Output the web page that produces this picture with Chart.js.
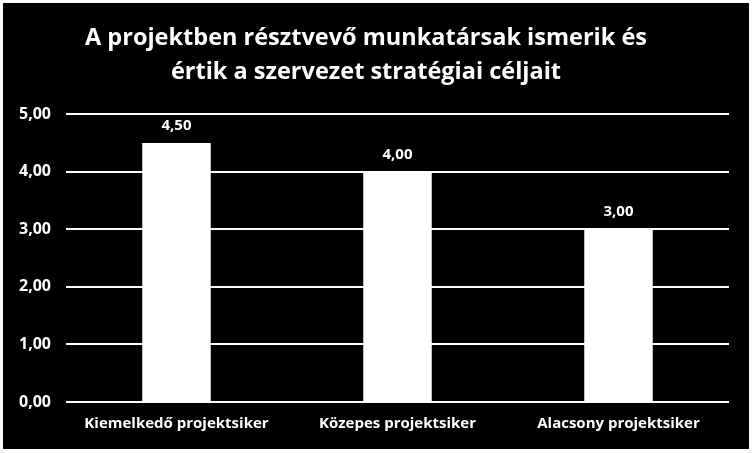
<!DOCTYPE html>
<html>
<head>
<meta charset="utf-8">
<script src="https://cdn.jsdelivr.net/npm/chart.js@4"></script>
<style>
  html, body { margin: 0; padding: 0; background: #fff; }
  #wrap { position: absolute; left: 3px; top: 3px; width: 746px; height: 446px; background: #000; }
</style>
</head>
<body>
<div id="wrap"><canvas id="c"></canvas></div>
<script>
const TITLE = ["A projektben résztvevő munkatársak ismerik és", "értik a szervezet stratégiai céljait"];
const categories = ["Kiemelkedő projektsiker", "Közepes projektsiker", "Alacsony projektsiker"];
const values = [4.5, 4.0, 3.0];
const yMin = 0, yMax = 5, yStep = 1;

const FONT = "'Open Sans', sans-serif";
const fmt = (v) => v.toFixed(2).replace(".", ",");

// value labels above each bar
const valueLabels = {
  id: "valueLabels",
  afterDatasetsDraw(chart) {
    const { ctx } = chart;
    const meta = chart.getDatasetMeta(0);
    ctx.save();
    ctx.fillStyle = "#fff";
    ctx.font = `bold 15px ${FONT}`;
    ctx.textAlign = "center";
    ctx.textBaseline = "alphabetic";
    meta.data.forEach((bar, i) => {
      ctx.fillText(fmt(values[i]), bar.x, bar.y - 13);
    });
    ctx.restore();
  },
};

new Chart(document.getElementById("c"), {
  type: "bar",
  data: {
    labels: categories,
    datasets: [{
      data: values, backgroundColor: "#fff", borderWidth: 0,
      barPercentage: 1, categoryPercentage: 0.31,
    }],
  },
  options: {
    responsive: true, maintainAspectRatio: false, animation: false,
    layout: { padding: { left: 0, right: 20, top: 0, bottom: 0 } },
    plugins: {
      legend: { display: false },
      tooltip: { enabled: false },
      title: {
        display: true, text: TITLE, color: "#fff",
        font: { family: FONT, size: 23.5, weight: "bold", lineHeight: 1.45 },
        padding: { top: 18, bottom: 25 },
      },
    },
    scales: {
      x: {
        grid: { display: false, drawTicks: false },
        border: { display: false },
        ticks: { color: "#fff", padding: 13, font: { family: FONT, size: 15, weight: "bold" }, maxRotation: 0 },
        afterFit: (s) => { s.height = 47; },
      },
      y: {
        min: yMin, max: yMax,
        grid: { color: "#fff", lineWidth: 2, drawTicks: false },
        border: { display: false },
        ticks: { stepSize: yStep, color: "#fff", padding: 15, callback: (v) => fmt(v), font: { family: FONT, size: 16, weight: "bold" } },
        afterFit: (s) => { s.width = 63; },
      },
    },
  },
  plugins: [valueLabels],
});
</script>
</body>
</html>
